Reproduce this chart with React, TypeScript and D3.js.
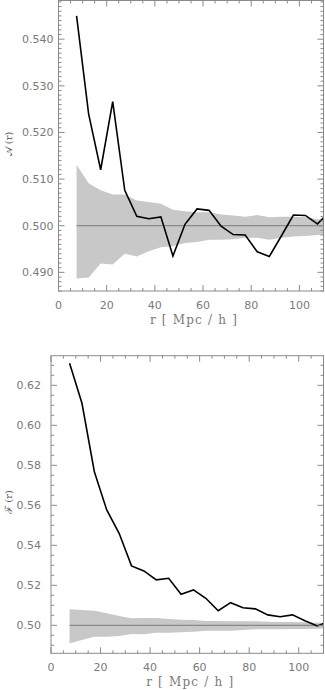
import React from "react";
import * as d3 from "d3";

const radii = [7.5, 12.5, 17.5, 22.5, 27.5, 32.5, 37.5, 42.5, 47.5, 52.5, 57.5, 62.5, 67.5, 72.5, 77.5, 82.5, 87.5, 92.5, 97.5, 102.5, 107.5, 112.5];

const aValues = [0.545, 0.524, 0.512, 0.5266, 0.5076, 0.502, 0.5015, 0.5019, 0.4935, 0.5003, 0.5036, 0.5033, 0.4999, 0.4981, 0.498, 0.4944, 0.4934, 0.4978, 0.5023, 0.5022, 0.5004, 0.503];
const aBandUpper = [0.5131, 0.5091, 0.5076, 0.5067, 0.5067, 0.5054, 0.5051, 0.5047, 0.5034, 0.5031, 0.5029, 0.5029, 0.5024, 0.5022, 0.5019, 0.5023, 0.5018, 0.5019, 0.5019, 0.5018, 0.5014, 0.5014];
const aBandLower = [0.4887, 0.4889, 0.4919, 0.4917, 0.494, 0.4934, 0.4945, 0.4954, 0.4956, 0.4963, 0.4965, 0.497, 0.497, 0.4971, 0.4974, 0.4974, 0.497, 0.4974, 0.4977, 0.4978, 0.498, 0.4982];

const fValues = [0.631, 0.611, 0.5768, 0.5577, 0.546, 0.5297, 0.5272, 0.5227, 0.5235, 0.5155, 0.5177, 0.5135, 0.5073, 0.5113, 0.5088, 0.5082, 0.5052, 0.5043, 0.5052, 0.5023, 0.4997, 0.502];
const fBandUpper = [0.508, 0.5077, 0.5073, 0.506, 0.5047, 0.5035, 0.5036, 0.5037, 0.5032, 0.5028, 0.5026, 0.5022, 0.5021, 0.502, 0.502, 0.502, 0.5018, 0.5017, 0.5016, 0.5015, 0.5013, 0.5013];
const fBandLower = [0.491, 0.4927, 0.4943, 0.4943, 0.4947, 0.4957, 0.4955, 0.4963, 0.4963, 0.4965, 0.4968, 0.4973, 0.4973, 0.4973, 0.4976, 0.498, 0.498, 0.498, 0.4981, 0.4982, 0.4983, 0.4984];

const xTicks = [0, 20, 40, 60, 80, 100];
const aTicks = [0.49, 0.5, 0.51, 0.52, 0.53, 0.54];
const fTicks = [0.5, 0.52, 0.54, 0.56, 0.58, 0.6, 0.62];

const AXIS = "#8a8a8a";
const LABEL = "#7a7a7a";

type PanelProps = {
  id: string;
  left: number; right: number; top: number; bottom: number;
  yDomain: [number, number];
  yTicks: number[];
  yMinorStep: number;
  yFormat: string;
  yLabelGap: number;
  values: number[];
  upper: number[];
  lower: number[];
  yLabel: string;
  yLabelY: number;
  titleDx: number;
};

function Panel(p: PanelProps) {
  const x = d3.scaleLinear().domain([0, 110]).range([p.left, p.right]);
  const y = d3.scaleLinear().domain(p.yDomain).range([p.bottom, p.top]);
  const fmt = d3.format(p.yFormat);
  const idx = d3.range(radii.length);
  const area = d3.area<number>().x(i => x(radii[i])).y0(i => y(p.lower[i])).y1(i => y(p.upper[i]));
  const line = d3.line<number>().x(i => x(radii[i])).y(i => y(p.values[i]));
  const xMinor = d3.range(0, 111, 5).filter(v => v % 20 !== 0);
  const yMinorAll = d3.range(Math.ceil(p.yDomain[0] / p.yMinorStep), Math.floor(p.yDomain[1] / p.yMinorStep) + 1).map(k => k * p.yMinorStep);
  const yMinor = yMinorAll.filter(v => !p.yTicks.some(t => Math.abs(t - v) < 1e-9));
  const major = 6, minor = 3;
  return (
    <g>
      <defs>
        <clipPath id={p.id}>
          <rect x={p.left} y={p.top} width={p.right - p.left} height={p.bottom - p.top} />
        </clipPath>
      </defs>
      <g clipPath={`url(#${p.id})`}>
        <path d={area(idx) || ""} fill="#c8c8c8" stroke="none" />
        <line x1={x(radii[0])} x2={p.right} y1={y(0.5)} y2={y(0.5)} stroke="#7a7a7a" strokeWidth={1} />
        <path d={line(idx) || ""} fill="none" stroke="#000" strokeWidth={1.6} strokeLinejoin="miter" />
      </g>
      <rect x={p.left} y={p.top} width={p.right - p.left} height={p.bottom - p.top} fill="none" stroke={AXIS} strokeWidth={1} />
      {xTicks.map(t => (
        <g key={"xt" + t}>
          <line x1={x(t)} x2={x(t)} y1={p.bottom} y2={p.bottom - major} stroke={AXIS} />
          <line x1={x(t)} x2={x(t)} y1={p.top} y2={p.top + major} stroke={AXIS} />
          <text x={x(t)} y={p.bottom + 18} textAnchor="middle" fontFamily="DejaVu Sans" fontSize={11} fill={LABEL}>{t}</text>
        </g>
      ))}
      {xMinor.map(t => (
        <g key={"xm" + t}>
          <line x1={x(t)} x2={x(t)} y1={p.bottom} y2={p.bottom - minor} stroke={AXIS} />
          <line x1={x(t)} x2={x(t)} y1={p.top} y2={p.top + minor} stroke={AXIS} />
        </g>
      ))}
      {p.yTicks.map(t => (
        <g key={"yt" + t}>
          <line x1={p.left} x2={p.left + major} y1={y(t)} y2={y(t)} stroke={AXIS} />
          <line x1={p.right} x2={p.right - major} y1={y(t)} y2={y(t)} stroke={AXIS} />
          <text x={p.left - p.yLabelGap} y={y(t)} dy="0.35em" textAnchor="end" fontFamily="DejaVu Sans" fontSize={11} fill={LABEL}>{fmt(t)}</text>
        </g>
      ))}
      {yMinor.map(t => (
        <g key={"ym" + t}>
          <line x1={p.left} x2={p.left + minor} y1={y(t)} y2={y(t)} stroke={AXIS} />
          <line x1={p.right} x2={p.right - minor} y1={y(t)} y2={y(t)} stroke={AXIS} />
        </g>
      ))}
      <text x={(p.left + p.right) / 2 + p.titleDx} y={p.bottom + 33} textAnchor="middle" fontFamily="DejaVu Serif" fontSize={12} fill={LABEL} letterSpacing={1.2} style={{ whiteSpace: "pre" }}>
        {"r [ Mpc / h ]"}
      </text>
      <text transform={`translate(12,${p.yLabelY}) rotate(-90)`} textAnchor="middle" fontFamily="DejaVu Serif" fontSize={10} fill="#555" style={{ whiteSpace: "pre" }}>
        {p.yLabel}
      </text>
    </g>
  );
}

export default function App() {
  return (
    <svg width={325} height={690} style={{ position: "absolute", left: 0, top: 0, background: "#fff" }}>
      <rect x={0} y={0} width={325} height={690} fill="#fff" />
      <Panel id="clipA" left={58.5} right={323.5} top={0.5} bottom={291} yDomain={[0.486, 0.5483]}
        yTicks={aTicks} yMinorStep={0.001} yFormat=".3f" yLabelGap={5}
        values={aValues} upper={aBandUpper} lower={aBandLower} yLabel={"𝒜 (r)"} yLabelY={144} titleDx={3} />
      <Panel id="clipF" left={51} right={323.5} top={355.7} bottom={653.3} yDomain={[0.486, 0.6348]}
        yTicks={fTicks} yMinorStep={0.005} yFormat=".2f" yLabelGap={10}
        values={fValues} upper={fBandUpper} lower={fBandLower} yLabel={"ℱ (r)"} yLabelY={502} titleDx={3} />
    </svg>
  );
}
